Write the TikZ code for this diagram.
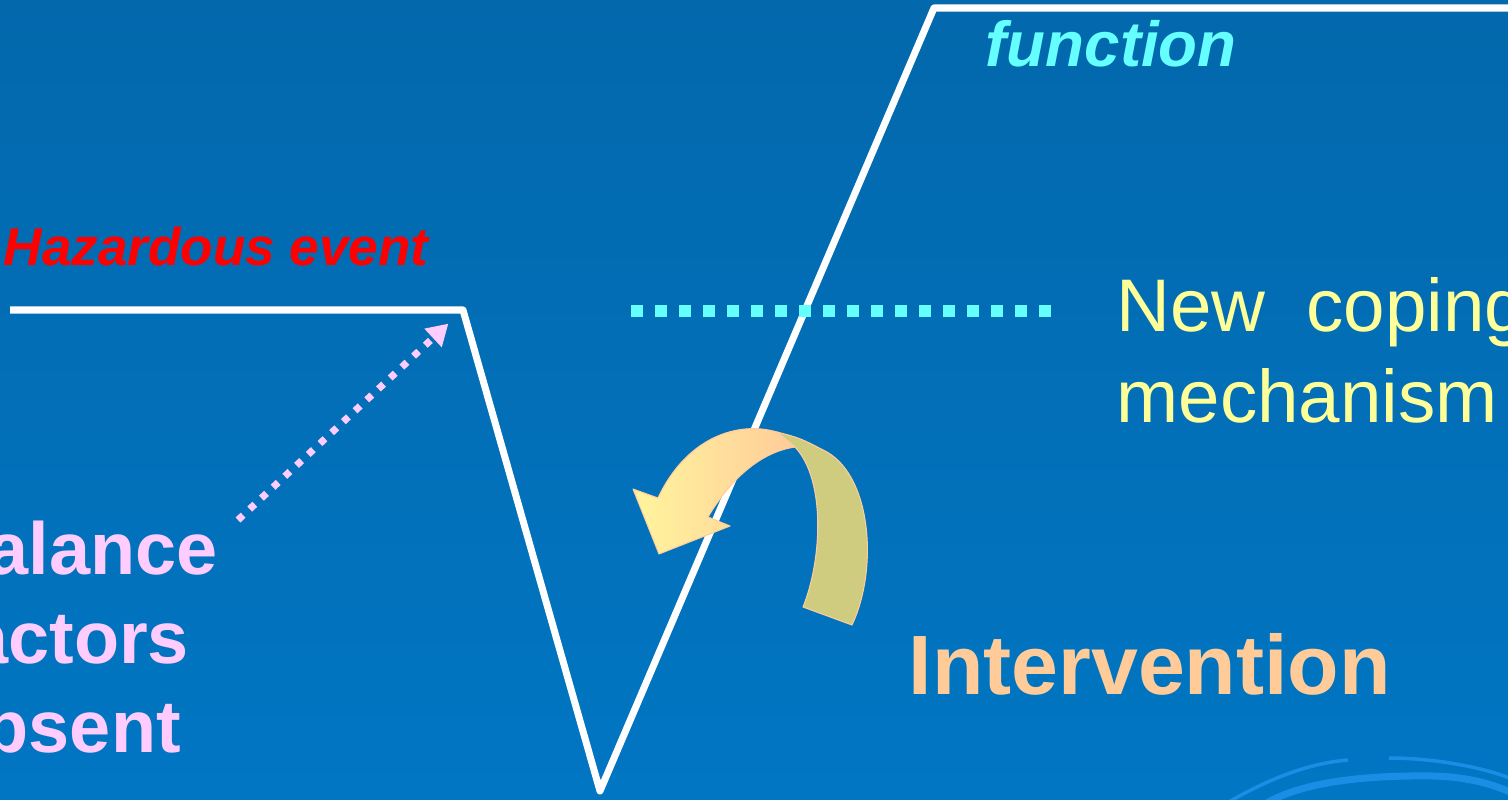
\documentclass[tikz,border=0pt]{standalone}
\usepackage{fontspec}
\setmainfont{Liberation Sans}
\usetikzlibrary{arrows.meta,calc}
\definecolor{slidetop}{HTML}{0368AC}
\definecolor{slidebot}{HTML}{0176C3}
\definecolor{swirlblue}{HTML}{1A8EE4}
\definecolor{hazred}{HTML}{FF0000}
\definecolor{aqua}{HTML}{66FFFF}
\definecolor{pinklbl}{HTML}{FFCCFF}
\definecolor{lemon}{HTML}{FFFF99}
\definecolor{peach}{HTML}{FFCC99}
\definecolor{paleyel}{HTML}{FFF59D}
\definecolor{ribbonback}{HTML}{CFCC80}
\tikzset{
  curveline/.style={white,line width=0.07cm,line join=round},
  pinkdots/.style={draw=pinklbl,line width=0.07cm,
                   dash pattern=on 0.07cm off 0.09cm,
                   -{Triangle[length=0.21cm,width=0.24cm]},shorten >=0.2cm},
  cyandots/.style={draw=aqua,line width=0.11cm,
                   dash pattern=on 0.12cm off 0.12cm},
  ribbon/.style={draw=peach,line width=0.3pt,line join=round},
  swirl/.style={draw=swirlblue,line cap=butt},
  slidetext/.style={inner sep=0pt,anchor=base west}
}

\begin{document}
\begin{tikzpicture}[x=0.01cm,y=-0.01cm]
  \useasboundingbox (0,0) rectangle (1508,800);
  \clip (0,0) rectangle (1508,800);
  % slide background
  \fill[top color=slidetop,bottom color=slidebot] (0,0) rectangle (1508,800);

  % corner swirl
  \draw[swirl,line width=0.035cm] (1227,803) .. controls (1270,778) and (1310,763) .. (1348,760);
  \draw[swirl,line width=0.035cm] (1389,758) .. controls (1430,758) and (1480,766) .. (1512,779);
  \draw[swirl,line width=0.07cm] (1265,804) .. controls (1300,783) and (1360,775) .. (1433,776)
                                 .. controls (1470,777) and (1495,785) .. (1512,793);

  % crisis curve
  \coordinate (linestart) at (10,310);
  \coordinate (hazcorner) at (463,310);
  \coordinate (trough) at (600,791);
  \coordinate (peak) at (934,8);
  \coordinate (lineend) at (1520,8);
  \draw[curveline] (linestart) -- (hazcorner) -- (trough) -- (peak) -- (lineend);

  % old level
  \coordinate (cyanstart) at (631,311);
  \coordinate (cyanend) at (1051,311);
  \draw[cyandots] (cyanstart) -- (cyanend);

  % labels (multi-line ones sit on their last baseline)
  \node[slidetext,font=\fontsize{15.1}{18}\selectfont\bfseries\itshape,text=hazred]
    (hazard) at (3,265) {Hazardous event};
  \node[slidetext,font=\fontsize{18.1}{21}\selectfont\bfseries\itshape,text=aqua]
    (func) at (985,66) {function};
  \node[slidetext,font=\fontsize{21.2}{25.6}\selectfont,text=lemon,align=left]
    (coping) at (1116,422) {New\hspace{0.2cm} coping\\mechanism};
  \node[slidetext,font=\fontsize{21}{25.2}\selectfont\bfseries,text=pinklbl,align=left]
    (balance) at (-58,752) {balance\\factors\\absent};
  \node[slidetext,font=\fontsize{23.95}{28}\selectfont\bfseries,text=peach]
    (intervention) at (908,694) {Intervention};

  \coordinate (pinkstart) at (238,520);
  \draw[pinkdots] (pinkstart) -- (hazcorner);

  % turning arrow: back of the ribbon
  \fill[ribbonback,ribbon] (777,432) .. controls (800,438) .. (827,452)
    .. controls (872,478) and (878,570) .. (852,625) -- (803,607)
    .. controls (822,560) and (826,480) .. (795,447) -- cycle;
  % turning arrow: front with head
  \shade[ribbon,left color=paleyel,right color=peach] (777,432)
    .. controls (735,420) and (685,440) .. (658,498) -- (633,489) -- (659,554)
    -- (730,526) -- (708,517)
    .. controls (730,480) and (760,452) .. (795,447) -- cycle;
\end{tikzpicture}
\end{document}
